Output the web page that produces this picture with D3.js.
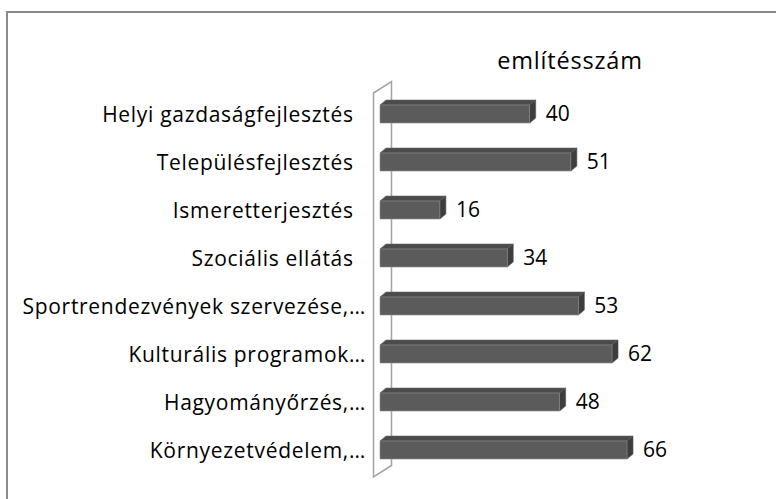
<!DOCTYPE html>
<html>
<head>
<meta charset="utf-8">
<script src="https://cdn.jsdelivr.net/npm/d3@7"></script>
<style>
  body { margin: 0; background: #fff; }
  text { font-family: "Open Sans", sans-serif; }
</style>
</head>
<body>
<div id="graf"></div>
<script>
// adatok
categories = ['Helyi gazdaságfejlesztés  ', 'Településfejlesztés  ', 'Ismeretterjesztés  ', 'Szociális ellátás  ',
              'Sportrendezvények szervezése,…', 'Kulturális programok…', 'Hagyományőrzés,…', 'Környezetvédelem,…']
values = [40, 51, 16, 34, 53, 62, 48, 66]
title = 'említésszám'

W = 776, H = 499
svg = d3.select('#graf').append('svg')
        .attr('width', W)
        .attr('height', H)

// keret
svg.append('rect')
   .attr('x', 7).attr('y', 12)
   .attr('width', W + 10).attr('height', H + 10)
   .attr('fill', 'none')
   .attr('stroke', '#8a8a8a')
   .attr('stroke-width', 2)

// skálák
x = d3.scaleLinear().domain([0, 66]).range([380, 627])
y = d3.scaleBand().domain(categories).range([90, 474])
      .paddingInner(0.625).paddingOuter(0.3125)

// 3D fal
wallDx = 18, wallDy = -11.5
wallX = 373.5, wallTop = 93, wallBottom = 477
svg.append('path')
   .attr('d', `M${wallX},${wallTop} L${wallX + wallDx},${wallTop + wallDy} L${wallX + wallDx},${wallBottom + wallDy} L${wallX},${wallBottom} Z`)
   .attr('fill', '#fff')
   .attr('stroke', '#a3a3a3')
   .attr('stroke-width', 1.5)

// cím
svg.append('text')
   .attr('x', 570).attr('y', 69)
   .attr('text-anchor', 'middle')
   .attr('font-size', 23.5)
   .attr('letter-spacing', 0.8)
   .attr('fill', '#000')
   .text(title)

// oszlopok (3D)
dx = 6, dy = -5
bars = svg.append('g')
data = categories.map((c, i) => ({ cat: c, v: values[i] }))

g = bars.selectAll('g').data(data).join('g')

// felső lap
g.append('path')
 .attr('d', d => {
   x0 = x(0), x1 = x(d.v), t = y(d.cat)
   return `M${x0},${t} L${x0 + dx},${t + dy} L${x1 + dx},${t + dy} L${x1},${t} Z`
 })
 .attr('fill', '#4b4b4b')
 .attr('stroke', '#6a6a6a')
 .attr('stroke-width', 0.6)

// oldallap
g.append('path')
 .attr('d', d => {
   x1 = x(d.v), t = y(d.cat), b = t + y.bandwidth()
   return `M${x1},${t} L${x1 + dx},${t + dy} L${x1 + dx},${b + dy} L${x1},${b} Z`
 })
 .attr('fill', '#3d3d3d')
 .attr('stroke', '#555')
 .attr('stroke-width', 0.6)

// előlap
g.append('rect')
 .attr('x', x(0))
 .attr('y', d => y(d.cat))
 .attr('width', d => x(d.v) - x(0))
 .attr('height', y.bandwidth())
 .attr('fill', '#5b5b5b')
 .attr('stroke', '#8c8c8c')
 .attr('stroke-width', 0.6)

// értékcímkék
g.append('text')
 .attr('x', d => x(d.v) + dx + 10)
 .attr('y', d => y(d.cat) + y.bandwidth() / 2 + 1)
 .attr('dominant-baseline', 'middle')
 .attr('font-size', 21)
 .attr('fill', '#000')
 .text(d => d.v)

// kategória címkék
svg.append('g').selectAll('text').data(categories).join('text')
   .attr('x', 366)
   .attr('y', d => y(d) + y.bandwidth() / 2 + 2)
   .attr('text-anchor', 'end')
   .attr('dominant-baseline', 'middle')
   .attr('font-size', 21)
   .attr('letter-spacing', 0.7)
   .attr('fill', '#000')
   .style('white-space', 'pre')
   .text(d => d)
</script>
</body>
</html>
